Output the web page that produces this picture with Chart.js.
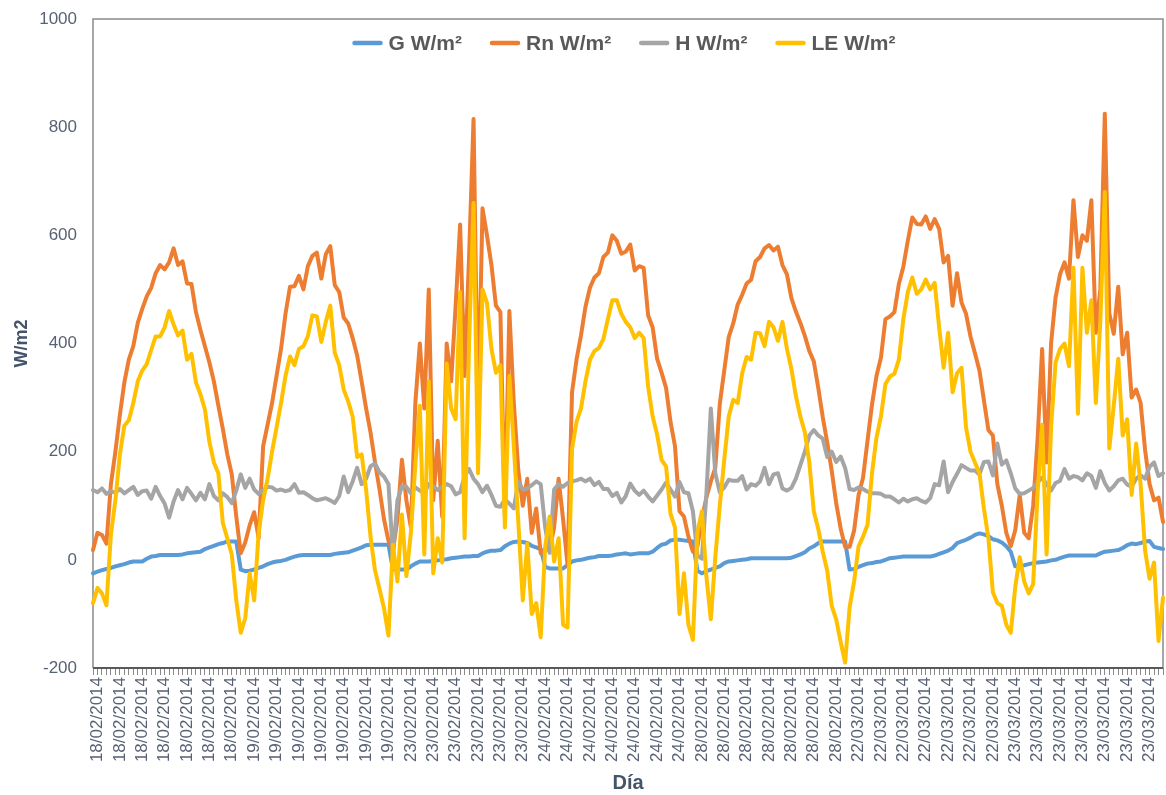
<!DOCTYPE html>
<html>
<head>
<meta charset="utf-8">
<script src="https://cdn.jsdelivr.net/npm/chart.js@4"></script>
<style>
html,body{margin:0;padding:0;background:#ffffff;}
#wrap{width:1166px;height:795px;position:relative;}
</style>
</head>
<body>
<div id="wrap"><canvas id="c" width="1166" height="795"></canvas></div>
<script>
// ---- data ----
const tickLabels = [
  '18/02/2014','18/02/2014','18/02/2014','18/02/2014','18/02/2014','18/02/2014','18/02/2014',
  '19/02/2014','19/02/2014','19/02/2014','19/02/2014','19/02/2014','19/02/2014','19/02/2014',
  '23/02/2014','23/02/2014','23/02/2014','23/02/2014','23/02/2014','23/02/2014',
  '24/02/2014','24/02/2014','24/02/2014','24/02/2014','24/02/2014','24/02/2014','24/02/2014',
  '28/02/2014','28/02/2014','28/02/2014','28/02/2014','28/02/2014','28/02/2014','28/02/2014',
  '22/03/2014','22/03/2014','22/03/2014','22/03/2014','22/03/2014','22/03/2014','22/03/2014',
  '23/03/2014','23/03/2014','23/03/2014','23/03/2014','23/03/2014','23/03/2014','23/03/2014'
];
const pointsPerLabel = 5;
const seriesNames = ['G W/m²', 'Rn W/m²', 'H W/m²', 'LE W/m²'];
const yTickValues = [-200, 0, 200, 400, 600, 800, 1000];

const G = [
  -25,-22,-19,-17,-15,-12,-10,-8,-5,-3,
  -3,-3,2,6,7,9,9,9,9,9,
  10,12,13,14,15,20,23,26,29,31,
  34,34,34,-18,-21,-20,-18,-15,-12,-8,
  -5,-3,-2,0,3,6,8,9,9,9,
  9,9,9,9,11,12,13,14,17,20,
  23,27,28,28,28,28,28,-18,-18,-18,
  -18,-12,-7,-3,-3,-3,-2,-1,0,1,
  3,4,5,6,6,7,7,12,15,17,
  17,18,25,30,33,34,33,31,26,23,
  20,-13,-16,-16,-16,-16,-10,-3,-1,0,
  2,4,5,7,7,7,8,10,11,12,
  10,11,12,12,12,15,22,28,30,36,
  37,37,36,35,34,-20,-25,-21,-18,-15,
  -12,-6,-3,-2,-1,0,1,3,3,3,
  3,3,3,3,3,3,4,7,10,14,
  21,25,31,34,34,34,34,34,34,-18,
  -17,-13,-10,-7,-6,-4,-3,0,3,4,
  5,6,6,6,6,6,6,6,8,11,
  14,17,22,31,34,37,41,46,49,47,
  44,38,36,32,25,15,-12,-11,-10,-8,
  -6,-5,-4,-3,-1,0,3,6,8,8,
  8,8,8,8,8,12,15,16,17,18,
  22,27,30,29,31,34,35,24,22,20
];

const Rn = [
  18,50,46,30,140,200,268,328,370,395,
  438,464,487,503,530,545,537,550,576,545,
  552,511,510,458,425,395,365,330,285,242,
  195,158,80,12,32,64,88,40,210,250,
  290,340,390,455,505,506,525,500,543,562,
  568,520,565,580,508,495,448,437,410,378,
  330,280,235,180,130,75,35,18,75,185,
  110,60,290,400,280,500,110,220,80,400,
  330,470,620,340,560,815,260,650,600,545,
  470,458,80,460,290,165,100,150,50,95,
  12,20,18,60,150,75,-10,310,370,415,
  468,503,522,530,560,568,600,590,566,570,
  583,535,543,540,452,430,372,346,318,255,
  210,90,80,43,15,25,75,115,145,170,
  288,350,412,437,472,490,511,518,552,560,
  576,582,572,579,545,528,484,459,438,414,
  386,367,318,264,217,165,105,58,24,24,
  54,120,152,220,287,340,374,445,450,458,
  510,542,590,633,621,620,635,612,630,612,
  550,562,470,530,476,455,413,382,350,295,
  240,230,140,100,50,25,55,120,50,40,
  100,225,390,180,400,485,528,550,520,665,
  560,600,590,665,420,500,825,456,418,505,
  380,420,300,315,290,203,140,110,115,70
];

const H = [
  129,125,132,122,127,124,131,123,129,135,
  120,127,128,113,135,118,104,78,108,129,
  112,133,122,110,124,112,140,118,110,123,
  116,105,128,158,133,150,130,122,129,135,
  134,128,130,127,129,140,124,125,120,114,
  110,112,114,110,105,118,154,125,145,170,
  140,150,173,178,162,154,140,8,110,136,
  135,123,134,128,123,140,136,129,135,140,
  136,121,125,155,168,150,140,125,137,120,
  100,98,112,104,95,145,130,132,138,145,
  140,60,13,130,140,135,142,145,147,150,
  145,150,138,144,131,131,118,124,106,118,
  141,128,120,128,117,108,119,130,143,130,
  117,144,125,123,90,8,2,120,280,160,
  125,134,148,146,146,155,130,140,137,145,
  170,140,158,160,132,128,133,150,175,200,
  230,240,230,224,190,200,181,191,170,131,
  129,134,131,126,123,123,122,117,117,112,
  106,113,108,112,114,109,106,114,140,138,
  182,125,144,159,175,170,165,165,158,181,
  182,156,215,176,184,160,132,122,123,128,
  133,143,152,140,128,142,146,168,150,155,
  153,147,160,155,133,164,142,128,136,147,
  150,139,135,150,156,150,172,180,155,160
];

const LE = [
  -80,-52,-62,-84,47,110,195,248,258,290,
  330,350,362,388,413,413,430,460,435,415,
  424,370,381,328,306,278,218,180,160,68,
  40,10,-75,-135,-108,-25,-75,50,110,150,
  200,245,290,340,376,360,390,395,414,452,
  450,403,440,470,383,360,315,293,265,190,
  195,130,42,-20,-54,-90,-140,28,-40,84,
  -30,50,175,285,10,330,-25,40,-5,363,
  280,260,495,40,400,660,160,500,475,390,
  346,360,60,340,210,70,-75,30,-100,-80,
  -143,24,80,-3,40,-120,-125,205,255,280,
  330,370,386,392,408,445,480,480,455,440,
  430,410,420,410,320,265,232,185,173,85,
  60,-100,-25,-120,-148,50,90,-30,-110,5,
  100,185,265,296,290,345,375,370,420,419,
  395,440,430,405,440,390,353,303,265,236,
  180,90,57,15,-20,-85,-110,-152,-190,-88,
  -40,25,43,65,160,226,265,325,339,344,
  370,445,495,522,492,500,518,500,512,430,
  355,420,310,345,355,245,200,180,160,95,
  40,-60,-80,-85,-120,-135,-50,5,-40,-62,
  -45,125,250,10,245,365,390,400,358,540,
  270,540,420,480,290,440,680,206,285,372,
  230,260,120,215,140,17,-35,-5,-150,-70
];

// ---- build chart ----
const categories = G.map((_, i) => tickLabels[Math.floor(i / pointsPerLabel)]);
const FAMILY = '"Liberation Sans", Arial, sans-serif';
const TICK_COLOR = '#586274';
const TITLE_COLOR = '#44546A';
const LEGEND_COLOR = '#595959';
const colors = ['#5B9BD5', '#ED7D31', '#A5A5A5', '#FFC000'];
const seriesData = [G, Rn, H, LE];

const plotFrame = {
  id: 'plotFrame',
  beforeDatasetsDraw(chart) {
    const {ctx, chartArea: a} = chart;
    ctx.save();
    ctx.strokeStyle = '#8a8a8a';
    ctx.lineWidth = 1.5;
    ctx.beginPath();
    ctx.moveTo(a.left, a.bottom);
    ctx.lineTo(a.left, a.top);
    ctx.lineTo(a.right, a.top);
    ctx.lineTo(a.right, a.bottom);
    ctx.stroke();
    ctx.strokeStyle = '#595959';
    ctx.lineWidth = 2;
    ctx.beginPath();
    ctx.moveTo(a.left, a.bottom);
    ctx.lineTo(a.right, a.bottom);
    ctx.stroke();
    ctx.restore();
  }
};

const inlineLegend = {
  id: 'inlineLegend',
  afterDatasetsDraw(chart) {
    const {ctx, chartArea: a} = chart;
    ctx.save();
    ctx.font = 'bold 21px ' + FAMILY;
    const markerW = 30, gap = 6, itemGap = 28;
    const items = chart.data.datasets.map(ds => ({
      text: ds.label, color: ds.borderColor, w: ctx.measureText(ds.label).width
    }));
    const total = items.reduce((s, it) => s + markerW + gap + it.w, 0) + itemGap * (items.length - 1);
    let x = (a.left + a.right) / 2 - total / 2 - 4;
    const y = a.top + 24;
    ctx.textBaseline = 'middle';
    ctx.textAlign = 'left';
    for (const it of items) {
      ctx.strokeStyle = it.color;
      ctx.lineWidth = 4.5;
      ctx.lineCap = 'round';
      ctx.beginPath();
      ctx.moveTo(x + 2, y);
      ctx.lineTo(x + markerW - 2, y);
      ctx.stroke();
      ctx.fillStyle = LEGEND_COLOR;
      ctx.fillText(it.text, x + markerW + gap, y + 1);
      x += markerW + gap + it.w + itemGap;
    }
    ctx.restore();
  }
};

new Chart(document.getElementById('c'), {
  type: 'line',
  data: {
    labels: categories,
    datasets: seriesData.map((d, k) => ({
      label: seriesNames[k],
      data: d,
      borderColor: colors[k],
      backgroundColor: colors[k],
      borderWidth: 4,
      pointRadius: 0,
      pointHoverRadius: 0,
      tension: 0,
      borderJoinStyle: 'round',
      borderCapStyle: 'round',
      fill: false,
      order: 4 - k
    }))
  },
  options: {
    responsive: false,
    animation: false,
    devicePixelRatio: 1,
    layout: { padding: { left: 0, right: 3, top: 19, bottom: 0 } },
    plugins: {
      legend: { display: false },
      tooltip: { enabled: false }
    },
    scales: {
      x: {
        type: 'category',
        offset: false,
        grid: { display: true, drawOnChartArea: false, drawTicks: true, tickLength: 7, color: '#8a8a8a', lineWidth: 1 },
        border: { display: false },
        ticks: {
          autoSkip: false,
          maxRotation: 90,
          minRotation: 90,
          padding: 2,
          color: TICK_COLOR,
          font: { family: FAMILY, size: 17 },
          callback: function (value, index) {
            return index % pointsPerLabel === 1 ? this.getLabelForValue(value) : '';
          }
        },
        title: {
          display: true, text: 'Día', color: TITLE_COLOR,
          font: { family: FAMILY, size: 20, weight: 'bold' },
          padding: { top: 0, bottom: 0 }
        },
        afterFit(scale) { scale.height = 127; scale.paddingLeft = 0; scale.paddingRight = 0; }
      },
      y: {
        min: yTickValues[0],
        max: yTickValues[yTickValues.length - 1],
        grid: { display: false, drawTicks: false },
        border: { display: false },
        afterBuildTicks(scale) { scale.ticks = yTickValues.map(v => ({ value: v })); },
        ticks: {
          padding: 16,
          color: TICK_COLOR,
          font: { family: FAMILY, size: 17 },
          callback: (v) => String(v)
        },
        title: {
          display: true, text: 'W/m2', color: TITLE_COLOR,
          font: { family: FAMILY, size: 18, weight: 'bold' },
          padding: { top: 11, bottom: 0 }
        },
        afterFit(scale) { scale.width = 93; scale.paddingTop = 0; scale.paddingBottom = 0; }
      }
    }
  },
  plugins: [plotFrame, inlineLegend]
});
</script>
</body>
</html>
